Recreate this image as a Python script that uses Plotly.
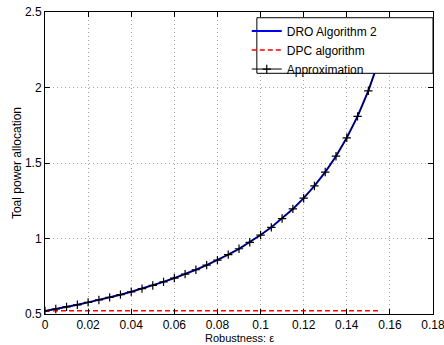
import plotly.graph_objects as go

eps = [0.000, 0.005, 0.010, 0.015, 0.020, 0.025, 0.030, 0.035, 0.040, 0.045,
       0.050, 0.055, 0.060, 0.065, 0.070, 0.075, 0.080, 0.085, 0.090, 0.095,
       0.100, 0.105, 0.110, 0.115, 0.120, 0.125, 0.130, 0.135, 0.140, 0.145,
       0.150, 0.155]
dro = [0.520, 0.533, 0.547, 0.561, 0.577, 0.593, 0.610, 0.628, 0.647, 0.668,
       0.689, 0.713, 0.738, 0.764, 0.793, 0.824, 0.857, 0.893, 0.932, 0.975,
       1.023, 1.074, 1.132, 1.196, 1.267, 1.348, 1.440, 1.545, 1.667, 1.809,
       1.978, 2.182]
dpc = [0.522] * len(eps)
approx = list(dro)

xticks = [0, 0.02, 0.04, 0.06, 0.08, 0.1, 0.12, 0.14, 0.16, 0.18]
xticklabels = ["0", "0.02", "0.04", "0.06", "0.08", "0.1", "0.12", "0.14", "0.16", "0.18"]
yticks = [0.5, 1, 1.5, 2, 2.5]
yticklabels = ["0.5", "1", "1.5", "2", "2.5"]
x_title = "Robustness: ε"
y_title = "Toal power allocation"

fig = go.Figure()
fig.add_trace(go.Scatter(x=eps, y=dro, mode="lines", name="DRO Algorithm 2",
                         line=dict(color="#0000ee", width=2)))
fig.add_trace(go.Scatter(x=eps, y=dpc, mode="lines", name="DPC algorithm",
                         line=dict(color="#ff0000", width=1.6, dash="5px,3px")))
fig.add_trace(go.Scatter(x=eps, y=approx, mode="lines+markers", name="Approximation",
                         line=dict(color="#000000", width=1),
                         marker=dict(symbol="cross-thin", size=6,
                                     line=dict(color="#000000", width=1.2))))

axis_common = dict(showline=True, linecolor="black", linewidth=1, mirror="ticks",
                   ticks="inside", ticklen=5, tickcolor="black",
                   showgrid=True, gridcolor="#a8a8a8", griddash="1px,3px", gridwidth=1,
                   zeroline=False, tickfont=dict(size=12, color="black"),
                   automargin=False, ticklabeloverflow="allow")

# legend frame (layout decoration, paper coordinates)
fig.add_shape(type="rect", xref="paper", yref="paper",
              x0=0.546, x1=1.0, y0=0.797, y1=0.981,
              line=dict(color="black", width=1), fillcolor="white", layer="above")

fig.add_annotation(text=x_title, xref="paper", yref="paper", x=0.5, y=-0.0795,
                   xanchor="center", yanchor="middle", showarrow=False,
                   font=dict(size=11, color="black"))
fig.add_annotation(text=y_title, xref="paper", yref="paper", x=-0.072, y=0.5,
                   xanchor="center", yanchor="middle", showarrow=False, textangle=-90,
                   font=dict(size=12, color="black"))

fig.update_layout(
    width=444, height=345,
    margin=dict(l=45, r=11, t=12, b=31),
    paper_bgcolor="white", plot_bgcolor="white",
    font=dict(family="Liberation Sans, Arial, sans-serif", size=12, color="black"),
    xaxis=dict(range=[0, 0.18], tickvals=xticks, ticktext=xticklabels,
               ticklabelstandoff=0, **axis_common),
    yaxis=dict(range=[0.5, 2.5], tickvals=yticks, ticktext=yticklabels,
               ticklabelstandoff=0, **axis_common),
    legend=dict(x=0.52, y=0.985, xanchor="left", yanchor="top",
                bgcolor="rgba(0,0,0,0)", borderwidth=0,
                font=dict(size=12), tracegroupgap=0, itemwidth=30),
    showlegend=True,
)

fig.write_html("out.html")
